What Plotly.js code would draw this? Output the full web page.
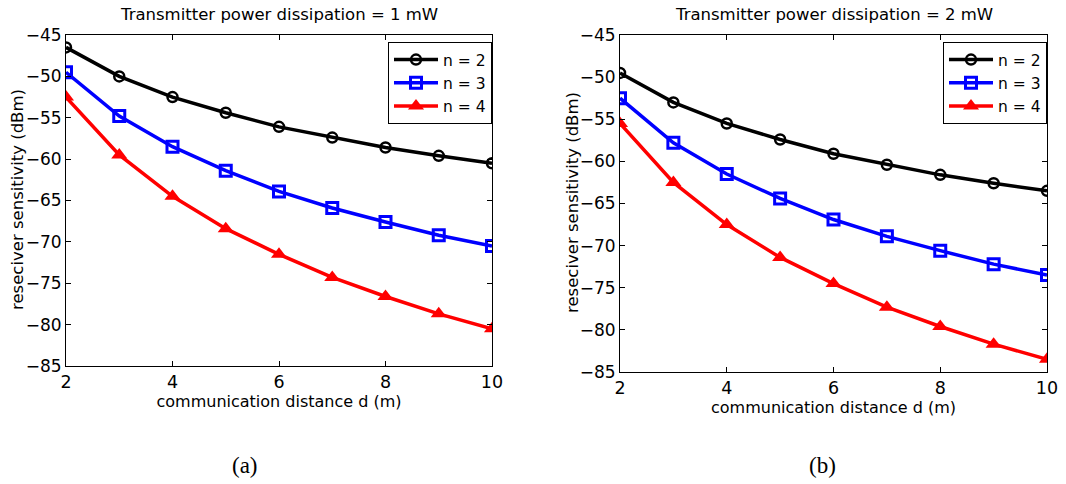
<!DOCTYPE html>
<html>
<head>
<meta charset="utf-8">
<script src="https://cdn.plot.ly/plotly-3.0.1.min.js"></script>
<style>html,body{margin:0;padding:0;background:#fff;}#chart{width:1066px;height:484px;}</style>
</head>
<body>
<div id="chart"></div>
<script>
// Data
const distance = [2, 3, 4, 5, 6, 7, 8, 9, 10];
const seriesNames = ["n = 2", "n = 3", "n = 4"];
// (a) Transmitter power dissipation = 1 mW
const p1_n2 = [-46.5, -50.0, -52.5, -54.4, -56.1, -57.4, -58.6, -59.6, -60.5];
const p1_n3 = [-49.5, -54.8, -58.5, -61.4, -63.9, -65.9, -67.6, -69.2, -70.5];
const p1_n4 = [-52.5, -59.5, -64.5, -68.4, -71.5, -74.3, -76.6, -78.7, -80.5];
// (b) Transmitter power dissipation = 2 mW
const p2_n2 = [-49.5, -53.0, -55.5, -57.4, -59.1, -60.4, -61.6, -62.6, -63.5];
const p2_n3 = [-52.5, -57.8, -61.5, -64.4, -66.9, -68.9, -70.6, -72.2, -73.5];
const p2_n4 = [-55.5, -62.5, -67.5, -71.4, -74.5, -77.3, -79.6, -81.7, -83.5];
const panelTitles = ["Transmitter power dissipation = 1 mW", "Transmitter power dissipation = 2 mW"];
const panelLabels = ["(a)", "(b)"];
const xTitle = "communication distance d (m)";
const yTitle = "reseciver sensitivity (dBm)";
const yTicks = [-45, -50, -55, -60, -65, -70, -75, -80, -85];
const xTicks = [2, 4, 6, 8, 10];

const styles = [
  {color: "#000000", symbol: "circle-open", size: 10, mlw: 2.5},
  {color: "#0000ff", symbol: "square-open", size: 11, mlw: 3},
  {color: "#ff0000", symbol: "triangle-up", size: 14, mlw: 0}
];

function mk(y, i, xa, ya, leg) {
  const s = styles[i];
  return {
    x: distance, y: y, type: "scatter", mode: "lines+markers",
    name: seriesNames[i], xaxis: xa, yaxis: ya, legend: leg,
    line: {color: s.color, width: 3.5},
    marker: {color: s.color, symbol: s.symbol, size: s.size, line: {color: s.color, width: s.mlw}}
  };
}

const data = [
  mk(p1_n2, 0, "x", "y", "legend"),
  mk(p1_n3, 1, "x", "y", "legend"),
  mk(p1_n4, 2, "x", "y", "legend"),
  mk(p2_n2, 0, "x2", "y2", "legend2"),
  mk(p2_n3, 1, "x2", "y2", "legend2"),
  mk(p2_n4, 2, "x2", "y2", "legend2")
];

const W = 1066, H = 484;
const font = {family: "DejaVu Sans, Arial, sans-serif", color: "#000", size: 16};

function xaxis(l, r, anchor) {
  return {
    domain: [l / W, r / W], anchor: anchor, range: [2, 10], tickvals: xTicks,
    ticks: "inside", ticklen: 5, tickcolor: "#000", showline: true, linecolor: "#000", linewidth: 1,
    mirror: "ticks", showgrid: false, zeroline: false, tickfont: {size: 17.5},
    title: {text: xTitle, font: {size: 16}, standoff: 2}
  };
}
function yaxis(t, b, anchor) {
  return {
    domain: [1 - b / H, 1 - t / H], anchor: anchor, range: [-85, -45], tickvals: yTicks,
    ticks: "inside", ticklen: 5, tickcolor: "#000", showline: true, linecolor: "#000", linewidth: 1,
    mirror: "ticks", showgrid: false, zeroline: false, tickfont: {size: 17}
  };
}

const legendBase = {
  yanchor: "top", xanchor: "left", bgcolor: "#fff", bordercolor: "#000", borderwidth: 1,
  font: {size: 15.5}, itemwidth: 44, tracegroupgap: 0
};

function txt(t, x, y, size, extra) {
  return Object.assign({text: t, xref: "paper", yref: "paper", x: x / W, y: 1 - y / H,
    showarrow: false, font: {size: size}, xanchor: "center", yanchor: "middle"}, extra || {});
}
const serif = {family: "Liberation Serif, Times New Roman, serif", size: 23};

const layout = {
  width: W, height: H, margin: {l: 0, r: 0, t: 0, b: 0},
  paper_bgcolor: "#fff", plot_bgcolor: "#fff", font: font, showlegend: true,
  xaxis: xaxis(66, 492, "y"),
  yaxis: yaxis(35, 366, "x"),
  xaxis2: xaxis(620, 1047, "y2"),
  yaxis2: yaxis(35, 372, "x2"),
  legend: Object.assign({x: 388 / W, y: 1 - 42 / H}, legendBase),
  legend2: Object.assign({x: 943 / W, y: 1 - 42 / H}, legendBase),
  annotations: [
    txt(panelTitles[0], 279, 15, 16.5),
    txt(panelTitles[1], 834, 15, 16.5),
    txt(yTitle, 18, 200, 16.5, {textangle: -90}),
    txt(yTitle, 572, 203, 16.5, {textangle: -90}),
    txt(panelLabels[0], 245, 465, 23, {font: serif}),
    txt(panelLabels[1], 822, 465, 23, {font: serif})
  ]
};

Plotly.newPlot("chart", data, layout, {staticPlot: true, displayModeBar: false});
</script>
</body>
</html>
